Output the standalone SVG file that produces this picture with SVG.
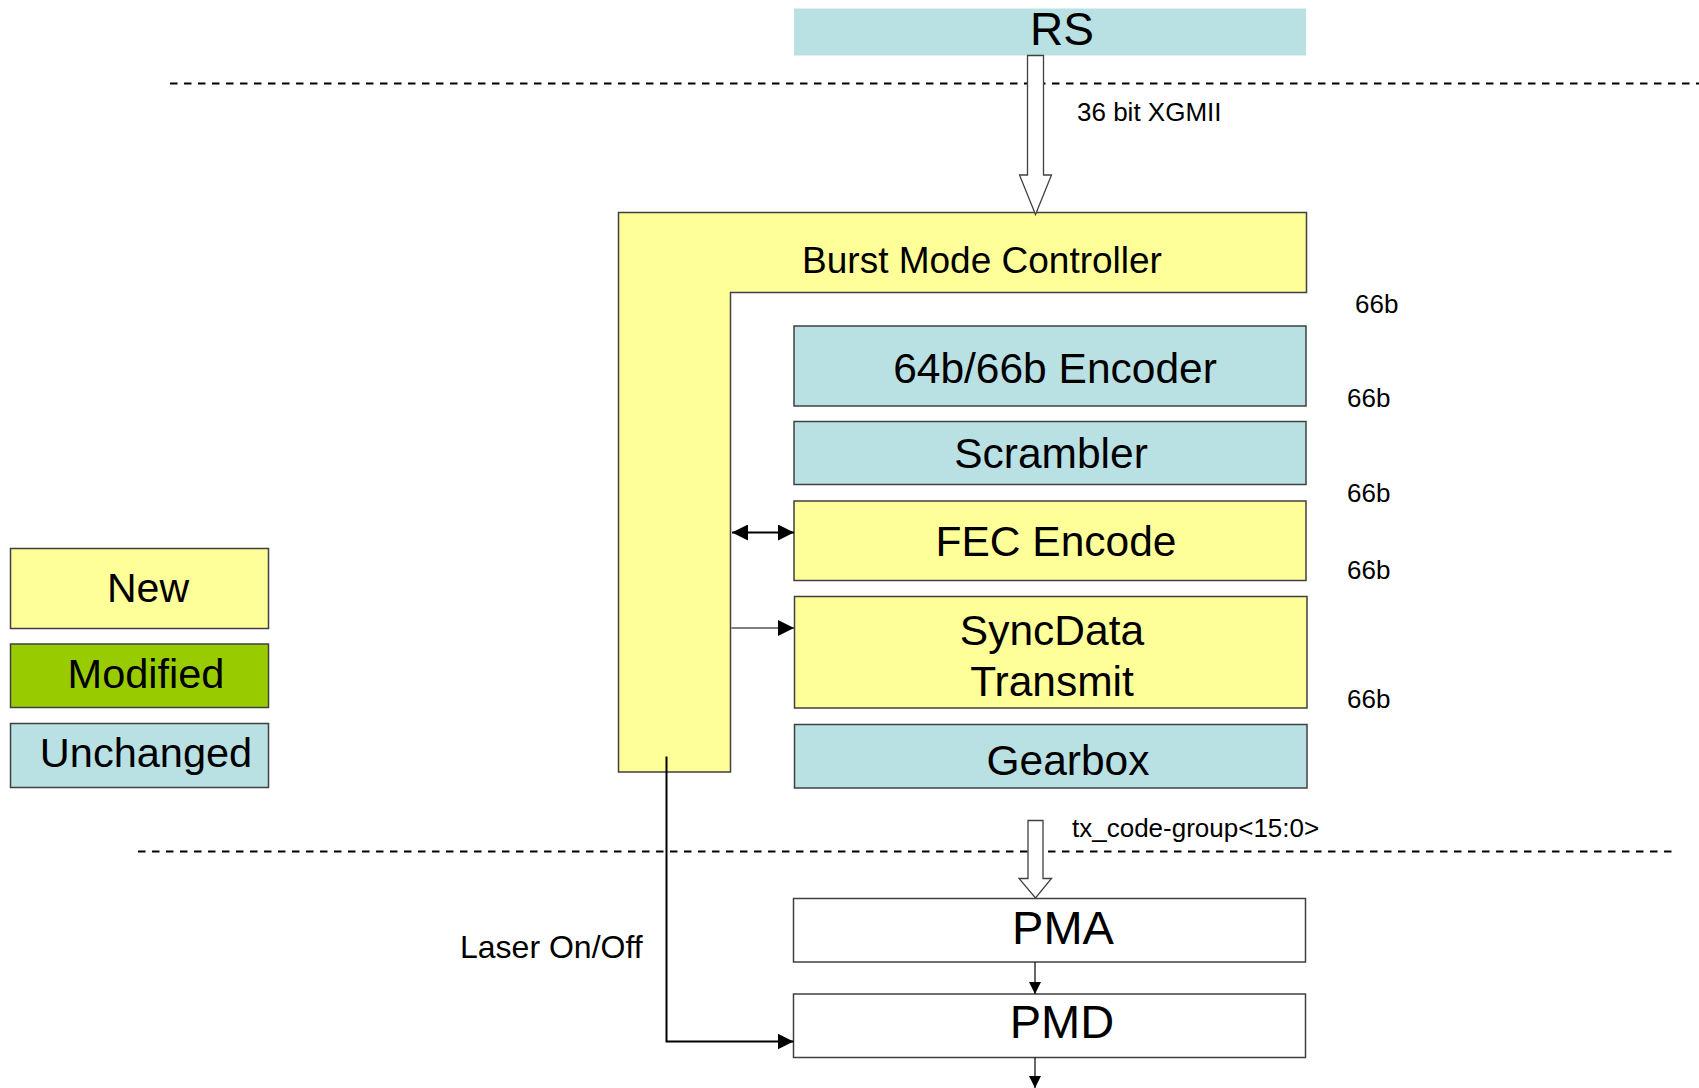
<svg xmlns="http://www.w3.org/2000/svg" width="1699" height="1088" viewBox="0 0 1699 1088">
<style>
text{font-family:"Liberation Sans",Arial,sans-serif;fill:#000}
.y{fill:#FFFF99;stroke:#404040;stroke-width:1.5}
.b{fill:#B9E0E3;stroke:#404040;stroke-width:1.5}
.w{fill:#FFFFFF;stroke:#404040;stroke-width:1.5}
.g{fill:#99CC00;stroke:#404040;stroke-width:1.5}
.big{font-size:42.5px;text-anchor:middle}
.sm{font-size:26px}
.dash{stroke:#000;stroke-width:2;stroke-dasharray:7.5 6.5;fill:none}
.ln{stroke:#000;fill:none}
.hollow{fill:#fff;stroke:#404040;stroke-width:1.3}
</style>
<defs>
<marker id="ah" viewBox="0 0 16 16" refX="16" refY="8" markerWidth="16" markerHeight="16" markerUnits="userSpaceOnUse" orient="auto-start-reverse">
<path d="M0,0 L16,8 L0,16 z" fill="#000"/>
</marker>
<marker id="ahs" viewBox="0 0 12 12" refX="12" refY="6" markerWidth="12" markerHeight="12" markerUnits="userSpaceOnUse" orient="auto">
<path d="M0,0 L12,6 L0,12 z" fill="#000"/>
</marker>
</defs>

<g id="dividers">
<line class="dash" x1="170" y1="83.5" x2="1699" y2="83.5"/>
<line class="dash" x1="138" y1="851.5" x2="1672" y2="851.5"/>
</g>

<g id="rs">
<rect x="794" y="8.5" width="512" height="47" fill="#B9E0E3"/>
<text x="1062" y="45" font-size="46" text-anchor="middle">RS</text>
</g>

<g id="bmc">
<path class="y" d="M618.5,212.5 H1306.5 V292.5 H730.5 V772 H618.5 Z"/>
<text x="982" y="273" font-size="37" text-anchor="middle">Burst Mode Controller</text>
</g>

<g id="encoder">
<rect class="b" x="794" y="326" width="512" height="80"/>
<text class="big" x="1055" y="383">64b/66b Encoder</text>
</g>
<g id="scrambler">
<rect class="b" x="794" y="421.5" width="512" height="63"/>
<text class="big" x="1051" y="468">Scrambler</text>
</g>
<g id="fec">
<rect class="y" x="794" y="501" width="512" height="79.5"/>
<text class="big" x="1056" y="556">FEC Encode</text>
</g>
<g id="syncdata">
<rect class="y" x="794.5" y="596.5" width="512.5" height="111.5"/>
<text class="big" x="1052" y="645">SyncData</text>
<text class="big" x="1052" y="696">Transmit</text>
</g>
<g id="gearbox">
<rect class="b" x="794.5" y="724.5" width="512.5" height="63.5"/>
<text class="big" x="1068" y="775">Gearbox</text>
</g>
<g id="pma">
<rect class="w" x="793.5" y="898.5" width="512" height="63.5"/>
<text x="1063" y="944" font-size="47" text-anchor="middle">PMA</text>
</g>
<g id="pmd">
<rect class="w" x="793.5" y="994" width="512" height="63.5"/>
<text x="1062" y="1038" font-size="47" text-anchor="middle">PMD</text>
</g>

<g id="legend">
<rect class="y" x="10.5" y="548.5" width="258" height="80"/>
<text x="148" y="601.5" font-size="41" text-anchor="middle">New</text>
<rect class="g" x="10.5" y="644" width="258" height="63.5"/>
<text x="146" y="687.5" font-size="41.5" text-anchor="middle">Modified</text>
<rect class="b" x="10.5" y="723.5" width="258" height="64"/>
<text x="146" y="767" font-size="41.5" text-anchor="middle">Unchanged</text>
</g>

<g id="labels">
<text class="sm" x="1077" y="121">36 bit XGMII</text>
<text class="sm" x="1355" y="313">66b</text>
<text class="sm" x="1347" y="406.5">66b</text>
<text class="sm" x="1347" y="501.5">66b</text>
<text class="sm" x="1347" y="579">66b</text>
<text class="sm" x="1347" y="708">66b</text>
<text class="sm" x="1072" y="836.5">tx_code-group&lt;15:0&gt;</text>
<text x="460" y="958" font-size="32">Laser On/Off</text>
</g>

<g id="connectors">
<path class="hollow" d="M1027.5,55.5 H1043.5 V175 H1051.5 L1035.5,214.5 L1019.5,175 H1027.5 Z"/>
<path class="hollow" d="M1028,820.5 H1043 V878.5 H1051.5 L1035.5,898 L1019,878.5 H1028 Z"/>
<line class="ln" stroke-width="2" x1="732" y1="532.5" x2="794" y2="532.5" marker-start="url(#ah)" marker-end="url(#ah)"/>
<line class="ln" stroke-width="1.2" x1="731.5" y1="628" x2="794" y2="628" marker-end="url(#ah)"/>
<path class="ln" stroke-width="2" d="M666.5,756.5 V1041.5 H793.5" marker-end="url(#ah)"/>
<line class="ln" stroke-width="1.2" x1="1035" y1="962" x2="1035" y2="994" marker-end="url(#ahs)"/>
<line class="ln" stroke-width="1.2" x1="1035" y1="1057.5" x2="1035" y2="1088" marker-end="url(#ahs)"/>
</g>
</svg>
